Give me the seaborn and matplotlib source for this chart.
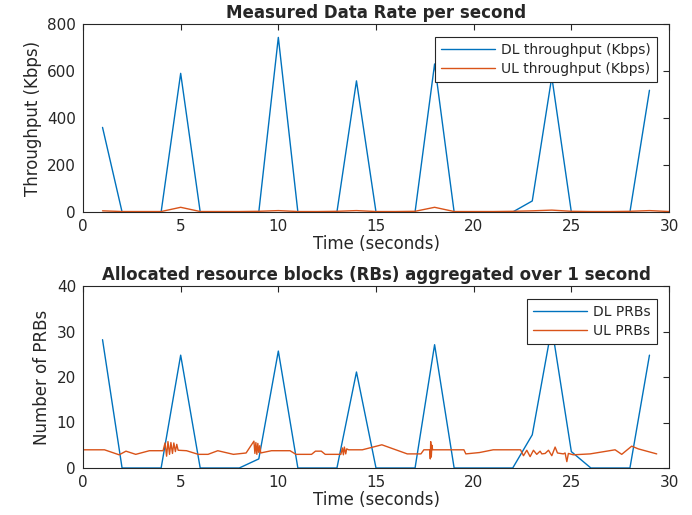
import matplotlib
matplotlib.use("Agg")
import matplotlib.pyplot as plt
import seaborn as sns
import pandas as pd
import numpy as np

# ---- data ----
seconds = list(range(1, 31))
dl_throughput = [360, 0, 0, 0, 590, 0, 0, 0, 0, 743, 0, 0, 0, 558, 0, 0, 0, 630, 0, 0, 0, 0, 47, 575, 0, 0, 0, 0, 518]
ul_throughput = [5, 2, 2, 2, 20, 2, 2, 2, 3, 6, 2, 2, 3, 6, 2, 2, 3, 20, 2, 2, 2, 3, 5, 8, 3, 2, 2, 3, 6, 2]

dl_prb_seconds = list(range(1, 30))
dl_prbs = [28.2, 0, 0, 0, 24.8, 0, 0, 0, 2, 25.7, 0, 0, 0, 21.1, 0, 0, 0, 27.1, 0, 0, 0, 0, 7.3, 31, 3.6, 0, 0, 0, 24.8]

ul_prb_time = [0.0, 1.1, 1.85, 2.2, 2.7, 3.4, 4.1,
               4.2, 4.28, 4.35, 4.43, 4.5, 4.58, 4.65, 4.73, 4.8, 4.87,
               5.3, 5.9, 6.4, 6.9, 7.7, 8.35, 8.75,
               8.8, 8.85, 8.9, 8.95, 9.0, 9.05, 9.1, 9.2,
               9.65, 10.6, 10.9, 11.7, 11.9, 12.2, 12.4, 13.2,
               13.28, 13.33, 13.38, 13.45, 13.5, 13.6, 14.3, 15.3, 16.6, 17.3, 17.45,
               17.75, 17.78, 17.8, 17.83, 17.86, 17.9, 19.5, 19.6, 20.3, 21.0, 22.4,
               22.55, 22.72, 22.89, 23.06, 23.23, 23.4, 23.49, 23.66, 23.83, 24.0,
               24.17, 24.29, 24.59, 24.68, 24.77, 24.85, 25.1, 25.96, 27.24, 27.58,
               28.09, 28.43, 29.37]
ul_prbs = [4.0, 4.0, 2.9, 3.7, 3.0, 3.8, 3.8,
           5.5, 2.6, 5.8, 3.0, 5.6, 3.2, 5.5, 3.6, 5.2, 3.9,
           3.8, 3.0, 3.0, 3.8, 3.0, 3.3, 5.9,
           3.2, 5.6, 3.0, 5.4, 3.4, 4.9, 3.3, 3.4,
           3.8, 3.8, 3.0, 3.0, 3.7, 3.7, 3.0, 3.0,
           4.4, 2.9, 4.6, 3.1, 4.2, 4.0, 4.0, 5.1, 3.1, 3.1, 4.0,
           4.0, 2.0, 5.8, 2.4, 5.0, 4.0, 4.0, 3.1, 3.4, 4.0, 4.0,
           2.7, 3.9, 2.5, 3.9, 3.0, 3.7, 3.1, 3.2, 3.9, 2.7,
           4.6, 3.3, 3.1, 3.3, 1.4, 3.2, 2.9, 3.1, 4.0, 3.0,
           4.8, 4.2, 3.1]

blue = "#0072BD"
orange = "#D95319"

sns.set_style("white")
plt.rcParams['font.family'] = ['DejaVu Sans']
plt.rcParams['axes.edgecolor'] = '#262626'
plt.rcParams['xtick.color'] = '#262626'
plt.rcParams['ytick.color'] = '#262626'
plt.rcParams['text.color'] = '#262626'
plt.rcParams['axes.labelcolor'] = '#262626'

fig = plt.figure(figsize=(6.92, 5.15), dpi=100)
ax1 = fig.add_axes([83/692, 1-212/515, 586/692, 188/515])
ax2 = fig.add_axes([83/692, 1-468/515, 586/692, 182/515])

df_dl = pd.DataFrame({"t": dl_prb_seconds, "v": dl_throughput})
df_ul = pd.DataFrame({"t": seconds, "v": ul_throughput})
sns.lineplot(data=df_dl, x="t", y="v", ax=ax1, color=blue, lw=1.0, label="DL throughput (Kbps)")
sns.lineplot(data=df_ul, x="t", y="v", ax=ax1, color=orange, lw=1.0, label="UL throughput (Kbps)")

df_dlp = pd.DataFrame({"t": dl_prb_seconds, "v": dl_prbs})
df_ulp = pd.DataFrame({"t": ul_prb_time, "v": ul_prbs})
sns.lineplot(data=df_dlp, x="t", y="v", ax=ax2, color=blue, lw=1.0, label="DL PRBs")
sns.lineplot(data=df_ulp, x="t", y="v", ax=ax2, color=orange, lw=1.0, label="UL PRBs", sort=False)

def style(ax, ylim, yticks, title, ylabel):
    ax.set_xlim(0, 30)
    ax.set_ylim(*ylim)
    ax.set_xticks([0, 5, 10, 15, 20, 25, 30])
    ax.set_yticks(yticks)
    ax.tick_params(direction="in", length=4, width=0.8, top=True, right=True,
                   labelsize=11, pad=5)
    for s in ax.spines.values():
        s.set_linewidth(0.8)
        s.set_color('#262626')
    ax.set_title(title, fontsize=12, fontweight="bold", pad=4)
    ax.set_xlabel("Time (seconds)", fontsize=12, labelpad=1)
    ax.set_ylabel(ylabel, fontsize=12, labelpad=4)
    leg = ax.legend(loc="upper right", fontsize=10, frameon=True, fancybox=False,
                    edgecolor="#262626", framealpha=1, borderpad=0.45,
                    handlelength=3.9, handletextpad=0.4, labelspacing=0.35,
                    borderaxespad=0.9)
    leg.get_frame().set_linewidth(0.8)

style(ax1, (0, 800), [0, 200, 400, 600, 800], "Measured Data Rate per second", "Throughput (Kbps)")
style(ax2, (0, 40), [0, 10, 20, 30, 40], "Allocated resource blocks (RBs) aggregated over 1 second", "Number of PRBs")

fig.savefig("out.png", dpi=100)
